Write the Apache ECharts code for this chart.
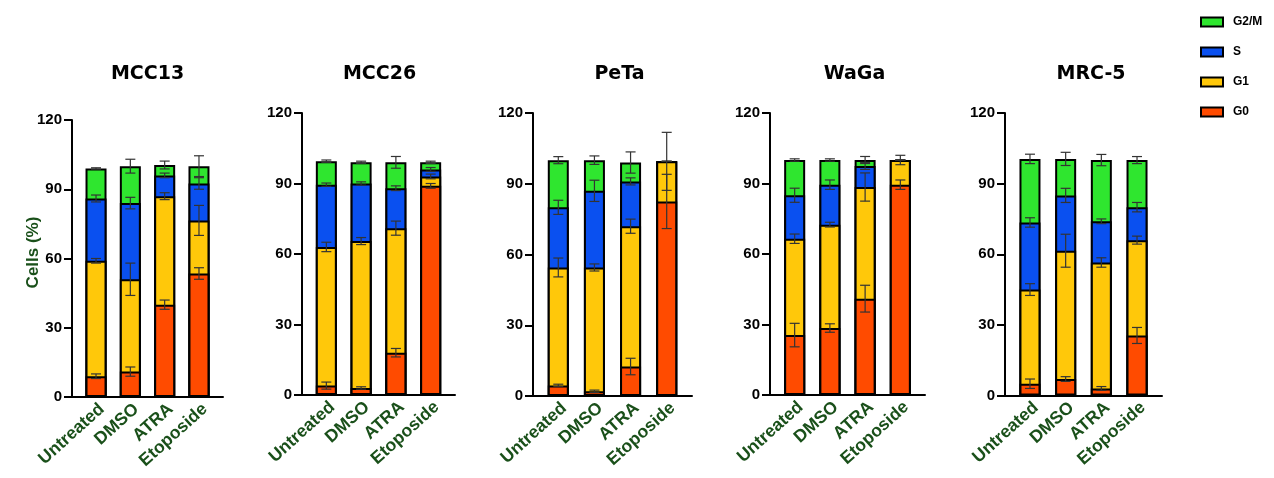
<!DOCTYPE html>
<html>
<head>
<meta charset="utf-8">
<script src="https://cdn.jsdelivr.net/npm/echarts@6/dist/echarts.min.js"></script>
<style>html,body{margin:0;padding:0;background:#fff}#c{width:1274px;height:478px}</style>
</head>
<body>
<div id="c"></div>
<script>
// ---------- data ----------
const cellLines = ['MCC13', 'MCC26', 'PeTa', 'WaGa', 'MRC-5'];
const treatments = ['Untreated', 'DMSO', 'ATRA', 'Etoposide'];
const phases = ['G0', 'G1', 'S', 'G2/M'];
const yTicks = [0, 30, 60, 90, 120];
// segment percentages: one row per cell line, one column per treatment
const g0Pct  = [[9, 11, 40, 53.5], [4, 3, 18, 89], [4.5, 2, 12.5, 82.5], [25.5, 28.5, 41, 89.5], [5, 7, 3, 25.5]];
const g1Pct  = [[50, 40, 47, 23], [59, 62.5, 53, 4], [50, 52.5, 59.5, 17], [41, 44, 47.5, 10.5], [40, 54.5, 53.5, 40.5]];
const sPct   = [[27, 33, 9, 16], [26.5, 24.5, 17, 3], [25.5, 32.5, 19, 0], [18.5, 17, 9, 0], [28.5, 23.5, 17.5, 14]];
const g2mPct = [[13, 16, 4.5, 7.5], [10, 9, 11, 3], [20, 13, 8, 0], [15, 10.5, 2.5, 0], [27, 15.5, 26, 20]];
// error (SD) of each segment
const g0Err  = [[1, 2, 2, 2.5], [1.5, 0.5, 1.8, 1], [0.5, 0.5, 3.5, 11.5], [5, 1.8, 5.7, 2], [2, 1, 0.8, 3.4]];
const g1Err  = [[1, 7, 1.5, 6.5], [2, 1.5, 3, 1], [4, 1.5, 3, 12.3], [2, 1, 6, 2], [2.5, 7, 2, 1.7]];
const sErr   = [[1.5, 2.5, 1, 2.5], [0.7, 0.7, 1, 0.8], [3, 4.5, 1.5, 0], [3, 2, 1.5, 0], [2, 3, 1, 2]];
const g2mErr = [[0.3, 3, 1.7, 4.5], [0.5, 0.5, 2.5, 0.5], [1.5, 1.8, 4.5, 0], [0.5, 0.5, 1.5, 0], [2, 2.8, 2.4, 1.5]];

// ---------- layout / style ----------
const panelBoxes = [
  { left: 72,   width: 151, top: 120, height: 277, titleX: 147.5 },
  { left: 302,  width: 153, top: 113, height: 282, titleX: 379.5 },
  { left: 533,  width: 159, top: 113, height: 283, titleX: 619.5 },
  { left: 770,  width: 155, top: 113, height: 282, titleX: 854.5 },
  { left: 1005, width: 157, top: 113, height: 282.5, titleX: 1091 }
];
const phaseColors = { 'G0': '#ff4b00', 'G1': '#ffc80a', 'S': '#0a50f0', 'G2/M': '#2fe62f' };
const labelGreen = '#1a501a';

const layerPct = [g0Pct, g1Pct, sPct, g2mPct];
const layerErr = [g0Err, g1Err, sErr, g2mErr];

const grid = [], xAxis = [], yAxis = [], title = [], series = [];

panelBoxes.forEach((b, i) => {
  grid.push({ left: b.left, top: b.top, width: b.width, height: b.height, outerBoundsMode: 'none', containLabel: false });
  title.push({
    text: cellLines[i], left: b.titleX, top: 65, textAlign: 'center', padding: 0,
    textStyle: { fontFamily: 'DejaVu Sans', fontWeight: 'bold', fontSize: 19, color: '#000' }
  });
  xAxis.push({
    type: 'value', gridIndex: i, min: -0.7, max: 3.7,
    axisLine: { show: true, onZero: false, lineStyle: { color: '#000', width: 2 } },
    axisTick: { show: false },
    splitLine: { show: false },
    axisLabel: {
      customValues: [0, 1, 2, 3],
      formatter: v => treatments[Math.round(v)],
      rotate: 42, margin: 3, verticalAlign: 'top',
      color: labelGreen, fontFamily: 'Arial', fontWeight: 'bold', fontSize: 17.5
    }
  });
  const ya = {
    type: 'value', gridIndex: i, min: yTicks[0], max: yTicks[yTicks.length - 1], interval: 30,
    axisLine: { show: true, onZero: false, lineStyle: { color: '#000', width: 2 } },
    axisTick: { show: true, length: 8, lineStyle: { color: '#000', width: 2 } },
    splitLine: { show: false },
    axisLabel: { color: '#000', fontFamily: 'Arial', fontWeight: 'bold', fontSize: 15, margin: 10 }
  };
  if (i === 0) {
    ya.name = 'Cells (%)';
    ya.nameLocation = 'middle';
    ya.nameGap = 30;
    ya.nameMoveOverlap = false;
    ya.nameRotate = 90;
    ya.nameTextStyle = { color: labelGreen, fontFamily: 'Arial', fontWeight: 'bold', fontSize: 17, padding: [0, 0, 0, 12] };
  }
  yAxis.push(ya);

  // cumulative tops of each stacked layer
  const tops = [];
  let running = [0, 0, 0, 0];
  layerPct.forEach((arr) => {
    running = running.map((r, j) => r + arr[i][j]);
    tops.push(running.slice());
  });

  // draw tallest first so shorter (lower) layers overlay it, giving stacked look
  for (let p = phases.length - 1; p >= 0; p--) {
    series.push({
      type: 'bar', name: phases[p], xAxisIndex: i, yAxisIndex: i,
      barWidth: 21, barGap: '-100%', z: 2 + (phases.length - p),
      itemStyle: { color: phaseColors[phases[p]], borderColor: '#000', borderWidth: 2 },
      emphasis: { disabled: true },
      data: tops[p].map((v, j) => [j, v])
    });
  }

  const errData = [];
  phases.forEach((ph, p) => {
    treatments.forEach((t, j) => errData.push([j, tops[p][j], layerErr[p][i][j]]));
  });
  series.push({
    type: 'custom', xAxisIndex: i, yAxisIndex: i, z: 20, silent: true,
    encode: { x: 0, y: 1 },
    data: errData,
    renderItem: (params, api) => {
      const x = api.value(0), top = api.value(1), e = api.value(2);
      const hi = api.coord([x, top + e]);
      const lo = api.coord([x, top - e]);
      const cap = 5;
      const st = { stroke: '#333', lineWidth: 1.2 };
      return {
        type: 'group', children: [
          { type: 'line', shape: { x1: hi[0], y1: hi[1], x2: lo[0], y2: lo[1] }, style: st },
          { type: 'line', shape: { x1: hi[0] - cap, y1: hi[1], x2: hi[0] + cap, y2: hi[1] }, style: st },
          { type: 'line', shape: { x1: lo[0] - cap, y1: lo[1], x2: lo[0] + cap, y2: lo[1] }, style: st }
        ]
      };
    }
  });
});

const chart = echarts.init(document.getElementById('c'));
chart.setOption({
  animation: false,
  backgroundColor: '#fff',
  title, grid, xAxis, yAxis, series,
  legend: {
    data: ['G2/M', 'S', 'G1', 'G0'],
    icon: 'rect',
    orient: 'vertical', left: 1195, top: 9, padding: 5,
    itemWidth: 22, itemHeight: 9, itemGap: 14,
    selectedMode: false,
    itemStyle: { borderColor: '#000', borderWidth: 2 },
    textStyle: { fontFamily: 'Arial', fontWeight: 'bold', fontSize: 12, color: '#000', lineHeight: 16, padding: [0, 0, 0, 5] }
  }
});
</script>
</body>
</html>
